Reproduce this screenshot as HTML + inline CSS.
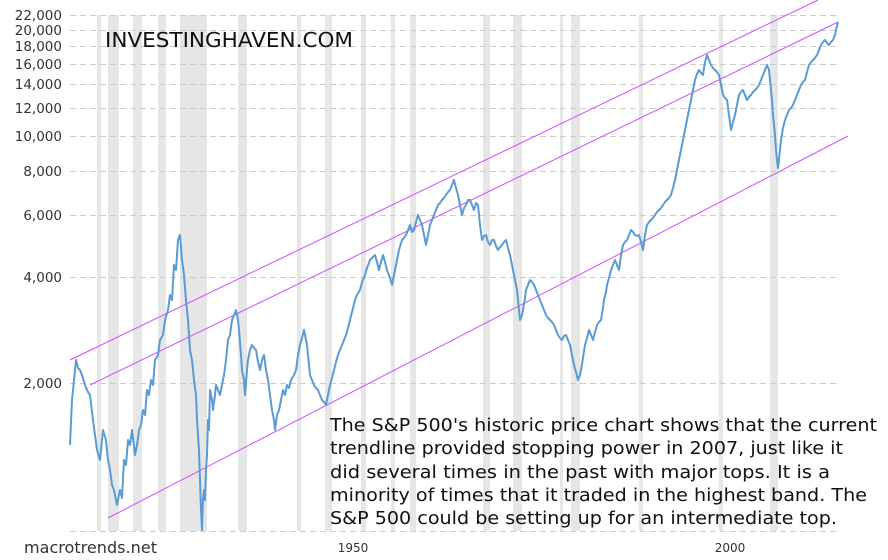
<!DOCTYPE html>
<html><head><meta charset="utf-8"><style>
body{margin:0;background:#fff}
svg{display:block}
</style></head><body>
<svg width="888" height="560" xmlns="http://www.w3.org/2000/svg" font-family="DejaVu Sans, Verdana, sans-serif">
<g fill="#e6e6e6">
<rect x="97" y="15" width="4" height="516"/>
<rect x="108" y="15" width="11" height="516"/>
<rect x="133" y="15" width="9" height="516"/>
<rect x="158" y="15" width="8" height="516"/>
<rect x="180" y="15" width="27" height="516"/>
<rect x="238" y="15" width="9" height="516"/>
<rect x="297" y="15" width="4" height="516"/>
<rect x="325" y="15" width="7" height="516"/>
<rect x="361" y="15" width="5" height="516"/>
<rect x="391" y="15" width="4" height="516"/>
<rect x="410" y="15" width="6" height="516"/>
<rect x="483" y="15" width="7" height="516"/>
<rect x="513" y="15" width="9" height="516"/>
<rect x="560" y="15" width="3" height="516"/>
<rect x="571" y="15" width="9" height="516"/>
<rect x="639" y="15" width="4" height="516"/>
<rect x="719" y="15" width="4" height="516"/>
<rect x="770" y="15" width="8" height="516"/>
</g>
<g stroke="#cccccc" stroke-dasharray="6,4" stroke-width="1">
<line x1="70" x2="836" y1="15.5" y2="15.5"/>
<line x1="70" x2="836" y1="30.5" y2="30.5"/>
<line x1="70" x2="836" y1="46.5" y2="46.5"/>
<line x1="70" x2="836" y1="64.5" y2="64.5"/>
<line x1="70" x2="836" y1="84.5" y2="84.5"/>
<line x1="70" x2="836" y1="108.5" y2="108.5"/>
<line x1="70" x2="836" y1="136.5" y2="136.5"/>
<line x1="70" x2="836" y1="171.5" y2="171.5"/>
<line x1="70" x2="836" y1="215.5" y2="215.5"/>
<line x1="70" x2="836" y1="277.5" y2="277.5"/>
<line x1="70" x2="836" y1="383.5" y2="383.5"/>
<line x1="70" x2="836" y1="531.5" y2="531.5"/>
</g>
<g font-size="13.5" fill="#333" text-anchor="end">
<text x="62" y="20">22,000</text>
<text x="62" y="35">20,000</text>
<text x="62" y="51">18,000</text>
<text x="62" y="69">16,000</text>
<text x="62" y="89">14,000</text>
<text x="62" y="113">12,000</text>
<text x="62" y="141">10,000</text>
<text x="62" y="176">8,000</text>
<text x="62" y="220">6,000</text>
<text x="62" y="282">4,000</text>
<text x="62" y="388">2,000</text>
</g>
<g stroke="#d24dff" stroke-width="1" fill="none">
<line x1="70" y1="360" x2="818" y2="0"/>
<line x1="90" y1="385" x2="838" y2="22"/>
<line x1="108" y1="518" x2="848" y2="136"/>
</g>
<polyline fill="none" stroke="#5b9bd5" stroke-width="2" stroke-linejoin="round" points="70,445 72,400 74,380 76,360 78,368 80,370 83,378 85,385 88,392 90,395 93,420 95,435 97,450 100,460 103,430 106,440 108,460 110,470 112,485 114,490 116,500 117,505 120,490 122,498 124,460 126,465 128,440 130,445 132,430 135,455 137,445 139,430 141,425 143,410 145,415 147,390 149,395 151,380 153,385 155,360 158,355 160,340 163,335 165,320 168,310 170,295 172,300 174,265 176,270 178,240 180,235 182,260 184,275 186,300 188,320 190,350 192,360 194,380 196,395 197,420 199,450 200,480 201,510 202,530 203,500 204,490 205,500 206,470 207,455 208,420 209,430 210,390 212,400 213,410 215,395 216,385 218,390 220,395 222,385 224,375 226,360 228,340 230,335 232,320 234,315 236,310 238,320 239,330 241,355 242,370 244,380 245,395 247,370 248,360 250,350 252,345 254,348 256,350 258,362 260,370 262,360 264,355 266,370 268,380 270,395 272,410 274,420 275,430 277,415 279,410 281,400 283,390 285,395 287,385 289,388 291,380 294,375 296,370 298,355 300,345 302,338 304,330 306,340 307,345 309,365 310,375 312,380 314,385 316,388 318,390 320,395 322,400 324,402 326,405 328,395 330,385 332,378 334,370 336,362 338,355 340,350 342,345 344,340 346,335 348,328 350,320 352,312 355,300 357,295 360,290 362,282 365,275 367,268 370,260 372,258 375,255 377,262 379,270 381,262 383,255 385,262 387,270 390,278 392,285 394,275 397,260 399,250 402,240 404,238 406,235 408,230 410,225 412,232 414,230 416,222 418,215 420,220 422,225 424,235 426,245 428,235 430,225 432,220 434,215 436,210 438,205 440,203 442,200 444,198 446,195 448,192 450,190 452,185 454,180 456,188 458,195 460,205 462,215 464,208 466,205 468,200 470,200 472,205 474,210 476,203 478,205 480,225 482,240 484,236 486,235 488,242 490,245 492,240 494,240 496,246 498,250 500,247 502,245 504,242 506,240 508,248 510,255 512,265 514,275 516,285 517,290 519,310 520,320 522,315 523,310 525,298 526,290 528,285 530,280 532,282 534,285 536,290 538,295 540,300 542,305 544,310 546,315 548,318 550,320 552,322 554,325 556,330 558,335 560,338 562,340 564,336 566,335 568,340 570,345 572,355 574,365 576,372 578,380 580,375 581,370 583,358 585,345 587,338 589,330 591,335 593,340 595,332 597,325 599,322 601,320 603,308 604,300 606,292 607,285 609,278 611,270 613,265 615,260 617,265 619,270 621,255 623,245 625,242 627,240 629,235 631,230 633,232 635,235 637,236 639,235 641,242 643,250 645,235 647,225 649,222 651,220 653,218 655,215 657,212 659,210 661,208 663,205 665,202 667,200 669,198 671,195 673,188 675,180 677,170 679,160 681,150 683,140 685,130 687,120 689,110 691,100 693,90 695,80 697,74 699,70 701,73 703,75 705,62 707,55 709,60 711,65 713,68 715,70 717,72 719,75 721,85 723,95 725,98 727,100 729,115 731,130 733,122 735,115 737,105 739,95 741,92 743,90 745,95 747,100 749,97 751,95 753,92 755,90 757,88 759,85 761,80 763,75 765,70 767,65 769,70 770,80 772,100 773,115 775,135 776,150 777,160 778,168 780,150 781,140 783,128 785,120 787,115 789,110 791,108 793,105 795,100 797,95 799,90 801,85 803,82 805,80 807,72 809,65 811,62 813,60 815,58 817,55 819,50 821,45 823,42 825,40 827,43 829,45 831,42 833,40 835,35 836,30 838,22"/>
<text x="105" y="47" font-size="20" fill="#111" textLength="248" lengthAdjust="spacingAndGlyphs">INVESTINGHAVEN.COM</text>
<g font-size="18" fill="#111" lengthAdjust="spacingAndGlyphs">
<text x="330" y="431" textLength="547" lengthAdjust="spacingAndGlyphs">The S&amp;P 500's historic price chart shows that the current</text>
<text x="330" y="454" textLength="513" lengthAdjust="spacingAndGlyphs">trendline provided stopping power in 2007, just like it</text>
<text x="330" y="478" textLength="500" lengthAdjust="spacingAndGlyphs">did several times in the past with major tops. It is a</text>
<text x="330" y="501" textLength="537" lengthAdjust="spacingAndGlyphs">minority of times that it traded in the highest band. The</text>
<text x="330" y="524" textLength="507" lengthAdjust="spacingAndGlyphs">S&amp;P 500 could be setting up for an intermediate top.</text>
</g>
<text x="24" y="553" font-size="16" fill="#333" textLength="133" lengthAdjust="spacingAndGlyphs">macrotrends.net</text>
<g font-size="12" fill="#333" text-anchor="middle">
<text x="353" y="552">1950</text>
<text x="730" y="552">2000</text>
</g>
</svg>
</body></html>
